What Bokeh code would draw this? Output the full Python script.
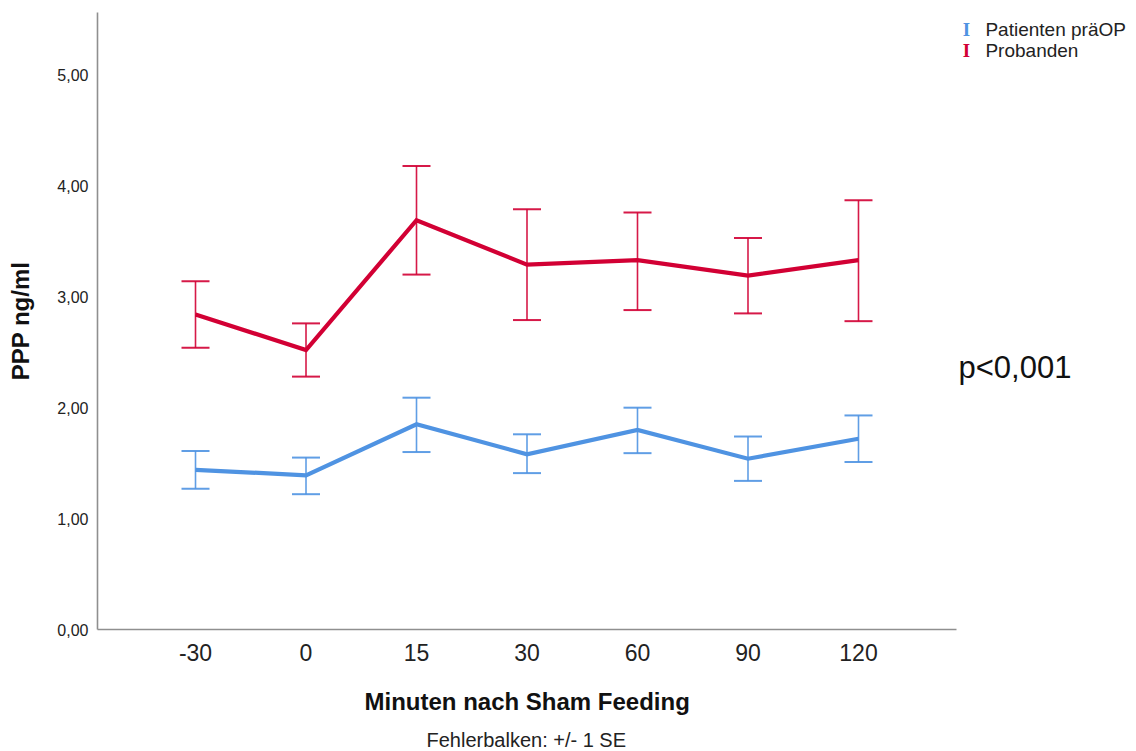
from bokeh.plotting import figure
from bokeh.models import (ColumnDataSource, Whisker, TeeHead, Label, FixedTicker,
                          Range1d, CustomJSTickFormatter, Title)
from bokeh.embed import file_html
from bokeh.resources import INLINE

# ---- data ----
categories = ["-30", "0", "15", "30", "60", "90", "120"]

patienten_mean = [1.44, 1.39, 1.85, 1.58, 1.80, 1.54, 1.72]
patienten_lower = [1.27, 1.22, 1.60, 1.41, 1.59, 1.34, 1.51]
patienten_upper = [1.61, 1.55, 2.09, 1.76, 2.00, 1.74, 1.93]

probanden_mean = [2.84, 2.52, 3.69, 3.29, 3.33, 3.19, 3.33]
probanden_lower = [2.54, 2.28, 3.20, 2.79, 2.88, 2.85, 2.78]
probanden_upper = [3.14, 2.76, 4.18, 3.79, 3.76, 3.53, 3.87]

y_ticks = [0, 1, 2, 3, 4, 5]

series_names = ["Patienten präOP", "Probanden"]
x_title = "Minuten nach Sham Feeding"
y_title = "PPP ng/ml"
note_text = "Fehlerbalken: +/- 1 SE"
p_text = "p<0,001"

BLUE = "#4f93e2"
RED = "#d20034"
FONT = "Liberation Sans"

xs = list(range(len(categories)))
x_lo, x_hi = -0.887, len(categories) - 1 + 0.887   # extent of the drawn x axis
y_hi = 5.563

p = figure(width=1136, height=751, output_backend="svg", toolbar_location=None,
           x_range=Range1d(x_lo, x_lo + 9.403),
           y_range=Range1d(0, y_hi),
           min_border_left=97, min_border_right=0, min_border_top=12,
           min_border_bottom=122)
p.outline_line_color = None
p.xgrid.grid_line_color = None
p.ygrid.grid_line_color = None
p.background_fill_color = "white"
p.border_fill_color = "white"

series = [
    (patienten_mean, patienten_lower, patienten_upper, BLUE),
    (probanden_mean, probanden_lower, probanden_upper, RED),
]
for mean, lower, upper, col in series:
    src = ColumnDataSource(dict(x=xs, y=mean, lower=lower, upper=upper))
    w = Whisker(source=src, base="x", lower="lower", upper="upper", dimension="height",
                line_color=col, line_width=1.6, line_alpha=0.9,
                upper_head=TeeHead(size=28, line_color=col, line_width=2, line_alpha=0.9),
                lower_head=TeeHead(size=28, line_color=col, line_width=2, line_alpha=0.9))
    p.add_layout(w)
    p.line("x", "y", source=src, line_color=col, line_width=4.2, line_join="miter")

# axes
axis_color = "#8f8f8f"
for ax in (p.xaxis[0], p.yaxis[0]):
    ax.axis_line_color = axis_color
    ax.axis_line_width = 1.6
    ax.major_tick_line_color = None
    ax.minor_tick_line_color = None
    ax.major_tick_out = 0
    ax.major_tick_in = 0
    ax.major_label_text_font = FONT
    ax.major_label_text_color = "#222222"
    ax.axis_label_text_font = FONT
    ax.axis_label_text_font_style = "bold"
    ax.axis_label_text_color = "#111111"

p.yaxis.ticker = FixedTicker(ticks=y_ticks)
p.yaxis.formatter = CustomJSTickFormatter(code="return tick.toFixed(2).replace('.', ',');")
p.yaxis.major_label_text_font_size = "16px"
p.yaxis.major_label_standoff = 9
p.yaxis.axis_label = y_title
p.yaxis.axis_label_text_font_size = "24px"
p.yaxis.axis_label_standoff = 20

p.xaxis.bounds = (x_lo, x_hi)
p.xaxis.ticker = FixedTicker(ticks=xs)
p.xaxis.major_label_overrides = {i: c for i, c in zip(xs, categories)}
p.xaxis.major_label_text_font_size = "23px"
p.xaxis.major_label_standoff = 14

# x axis title and note, centred under the drawn axis
p.add_layout(Title(text=x_title, align="left", offset=267, standoff=45,
                   text_font=FONT, text_font_size="24px", text_font_style="bold",
                   text_color="#111111"), "below")
p.add_layout(Title(text=note_text, align="left", offset=329, standoff=-27,
                   text_font=FONT, text_font_size="20px", text_font_style="normal",
                   text_color="#222222"), "below")

# p-value
p.add_layout(Label(x=6.905, y=2.358, text=p_text, text_font=FONT,
                   text_font_size="31px", text_color="#111111",
                   text_align="left", text_baseline="middle"))

# legend (error-bar icons + names)
for i, (name, col) in enumerate(zip(series_names, [BLUE, RED])):
    yy = 5.41 - i * 0.19
    p.add_layout(Label(x=6.977, y=yy, text="I", text_font="Liberation Serif",
                       text_font_size="19px", text_font_style="bold", text_color=col,
                       text_align="center", text_baseline="middle"))
    p.add_layout(Label(x=7.149, y=yy, text=name, text_font=FONT,
                       text_font_size="19px", text_color="#222222",
                       text_align="left", text_baseline="middle"))

open("out.html", "w").write(file_html(p, INLINE))
